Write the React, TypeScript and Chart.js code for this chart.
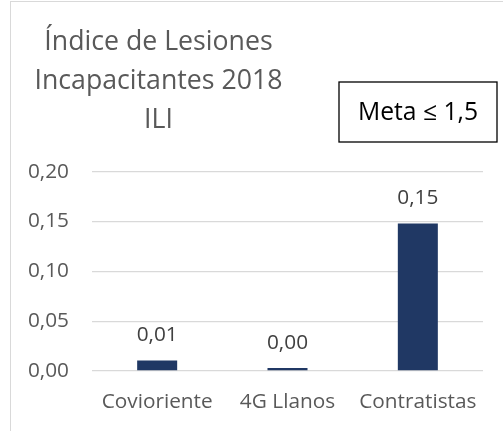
import React, { useEffect, useRef } from "react";
import { Chart, registerables } from "chart.js";

Chart.register(...registerables);

const categories = ["Covioriente", "4G Llanos", "Contratistas"];
const values = [0.0105, 0.003, 0.148];
const titleLines = ["Índice de Lesiones", "Incapacitantes 2018", "ILI"];
const metaText = "Meta ≤ 1,5";
const yMin = 0;
const yMax = 0.2;
const yStep = 0.05;

const FONT = '"Open Sans", "Noto Sans", sans-serif';
const fmt = (v: number) => v.toFixed(2).replace(".", ",");

const decorPlugin = {
  id: "decor",
  beforeDraw(chart: any) {
    const ctx = chart.ctx;
    ctx.save();
    ctx.fillStyle = "#ffffff";
    ctx.fillRect(0, 0, chart.width, chart.height);
    ctx.strokeStyle = "#d9d9d9";
    ctx.lineWidth = 1;
    ctx.strokeRect(10.5, 1.5, chart.width + 20, chart.height + 20);
    ctx.restore();
  },
  afterDraw(chart: any) {
    const ctx = chart.ctx;
    ctx.save();
    // title
    ctx.fillStyle = "#595959";
    ctx.font = `26.7px ${FONT}`;
    ctx.textAlign = "center";
    ctx.textBaseline = "alphabetic";
    titleLines.forEach((line, i) => {
      ctx.fillText(line, 158.5, 50 + i * 39);
    });
    // meta box
    ctx.strokeStyle = "#000000";
    ctx.lineWidth = 1.3;
    ctx.strokeRect(339, 82, 158, 60);
    ctx.fillStyle = "#000000";
    ctx.font = `24.7px ${FONT}`;
    ctx.fillText(metaText, 418, 120);
    // data labels
    const meta = chart.getDatasetMeta(0);
    ctx.fillStyle = "#404040";
    ctx.font = `20.8px ${FONT}`;
    ctx.textBaseline = "middle";
    meta.data.forEach((bar: any, i: number) => {
      ctx.fillText(fmt(values[i]), bar.x, bar.y - 25);
    });
    ctx.restore();
  },
};

export default function App() {
  const ref = useRef<HTMLCanvasElement>(null);
  useEffect(() => {
    const chart = new Chart(ref.current!, {
      type: "bar",
      data: {
        labels: categories,
        datasets: [
          {
            data: values,
            backgroundColor: "#203864",
            borderWidth: 0,
            categoryPercentage: 1,
            barPercentage: 0.307,
          },
        ],
      },
      options: {
        animation: false,
        responsive: true,
        maintainAspectRatio: false,
        layout: { padding: { left: 10, right: 20, top: 171.7, bottom: 0 } },
        plugins: {
          legend: { display: false },
          title: { display: false },
          tooltip: { enabled: false },
        },
        scales: {
          x: {
            grid: { display: false, drawTicks: false },
            border: { display: false },
            ticks: {
              color: "#595959",
              font: { family: FONT, size: 20.8 },
              padding: 19,
              maxRotation: 0,
              autoSkip: false,
            },
            afterFit: (s: any) => {
              s.height = 60;
            },
          },
          y: {
            min: yMin,
            max: yMax,
            grid: { color: "#d9d9d9", lineWidth: 1.3, drawTicks: false },
            border: { display: false },
            ticks: {
              stepSize: yStep,
              color: "#595959",
              font: { family: FONT, size: 20.8 },
              padding: 23,
              callback: (v: any) => fmt(Number(v)),
            },
            afterFit: (s: any) => {
              s.width = 82;
            },
          },
        },
      },
      plugins: [decorPlugin],
    });
    return () => chart.destroy();
  }, []);
  return (
    <div style={{ position: "fixed", left: 0, top: 0, width: 503, height: 431, background: "#fff" }}>
      <canvas ref={ref} />
    </div>
  );
}
